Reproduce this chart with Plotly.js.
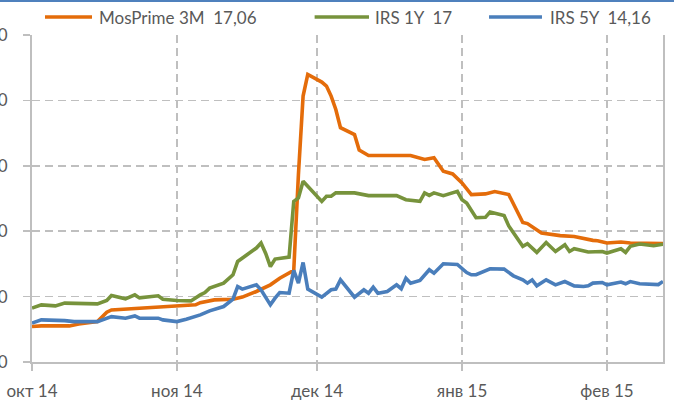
<!DOCTYPE html>
<html>
<head>
<meta charset="utf-8">
<script src="https://cdn.plot.ly/plotly-3.0.1.min.js"></script>
<style>
html,body{margin:0;padding:0;background:#fff;overflow:hidden;}
#topbar{position:absolute;left:0;top:0;width:674px;height:2px;background:#4F81BD;z-index:5;}
#chart{width:674px;height:406px;}
</style>
</head>
<body>
<div id="topbar"></div>
<div id="chart"></div>
<script>
// MosPrime 3M
const mosDates = ['2014-10-01','2014-10-03','2014-10-09','2014-10-11','2014-10-15','2014-10-17','2014-10-18','2014-10-21','2014-10-28','2014-11-01','2014-11-05','2014-11-06','2014-11-09','2014-11-13','2014-11-15','2014-11-18','2014-11-20','2014-11-21','2014-11-23','2014-11-25','2014-11-26','2014-11-27','2014-11-28','2014-11-29','2014-12-02','2014-12-03','2014-12-04','2014-12-05','2014-12-06','2014-12-09','2014-12-10','2014-12-12','2014-12-21','2014-12-24','2014-12-26','2014-12-27','2014-12-28','2014-12-30','2015-01-01','2015-01-03','2015-01-06','2015-01-08','2015-01-11','2015-01-14','2015-01-15','2015-01-18','2015-01-22','2015-01-25','2015-01-27','2015-01-29','2015-01-30','2015-02-01','2015-02-04','2015-02-06','2015-02-13'];
const mosValues = [10.71,10.76,10.76,10.91,11.09,11.81,11.98,12.04,12.16,12.29,12.37,12.54,12.75,12.80,12.96,13.39,13.69,13.90,14.41,14.84,15.00,22.33,28.33,29.99,29.40,29.10,28.33,27.31,25.91,25.39,24.20,23.79,23.79,23.48,23.61,23.10,22.58,22.38,21.69,20.80,20.85,21.03,20.80,18.67,18.58,17.86,17.66,17.60,17.43,17.30,17.27,17.10,17.17,17.10,17.06];

// IRS 1Y
const irs1Dates = ['2014-10-01','2014-10-03','2014-10-06','2014-10-08','2014-10-15','2014-10-17','2014-10-18','2014-10-21','2014-10-23','2014-10-24','2014-10-28','2014-10-29','2014-11-01','2014-11-04','2014-11-06','2014-11-07','2014-11-08','2014-11-11','2014-11-13','2014-11-14','2014-11-16','2014-11-18','2014-11-19','2014-11-20','2014-11-21','2014-11-22','2014-11-25','2014-11-26','2014-11-27','2014-11-28','2014-12-02','2014-12-03','2014-12-04','2014-12-05','2014-12-09','2014-12-12','2014-12-18','2014-12-20','2014-12-23','2014-12-24','2014-12-25','2014-12-26','2014-12-28','2014-12-31','2015-01-01','2015-01-02','2015-01-04','2015-01-06','2015-01-07','2015-01-10','2015-01-11','2015-01-14','2015-01-15','2015-01-17','2015-01-19','2015-01-21','2015-01-23','2015-01-24','2015-01-25','2015-01-27','2015-01-28','2015-01-31','2015-02-01','2015-02-04','2015-02-05','2015-02-06','2015-02-08','2015-02-11','2015-02-13'];
const irs1Values = [12.12,12.37,12.29,12.50,12.44,12.70,13.08,12.83,13.13,12.90,13.06,12.80,12.70,12.67,13.13,13.31,13.65,14.03,14.67,15.69,16.20,16.71,17.10,16.30,15.30,15.87,16.02,20.28,20.54,21.82,20.28,20.67,20.67,20.93,20.93,20.72,20.72,20.41,20.28,20.93,20.74,20.93,20.72,21.05,20.41,20.16,19.03,19.06,19.47,19.19,18.40,16.84,17.04,16.38,17.14,16.45,16.97,16.45,16.66,16.51,16.41,16.45,16.33,16.66,16.38,16.84,17.02,16.89,17.00];

// IRS 5Y
const irs5Dates = ['2014-10-01','2014-10-03','2014-10-08','2014-10-10','2014-10-15','2014-10-18','2014-10-21','2014-10-23','2014-10-24','2014-10-28','2014-10-29','2014-11-01','2014-11-03','2014-11-06','2014-11-08','2014-11-11','2014-11-13','2014-11-14','2014-11-15','2014-11-18','2014-11-19','2014-11-21','2014-11-22','2014-11-23','2014-11-25','2014-11-26','2014-11-27','2014-11-28','2014-11-29','2014-12-02','2014-12-04','2014-12-05','2014-12-06','2014-12-09','2014-12-11','2014-12-12','2014-12-13','2014-12-14','2014-12-16','2014-12-18','2014-12-19','2014-12-20','2014-12-21','2014-12-23','2014-12-25','2014-12-26','2014-12-28','2014-12-31','2015-01-02','2015-01-03','2015-01-04','2015-01-07','2015-01-10','2015-01-12','2015-01-14','2015-01-15','2015-01-16','2015-01-17','2015-01-19','2015-01-21','2015-01-23','2015-01-25','2015-01-27','2015-01-28','2015-01-29','2015-01-31','2015-02-01','2015-02-04','2015-02-05','2015-02-06','2015-02-08','2015-02-12','2015-02-13'];
const irs5Values = [10.97,11.22,11.16,11.09,11.09,11.47,11.35,11.52,11.35,11.35,11.22,11.09,11.27,11.60,11.91,12.24,12.80,13.77,13.57,13.90,13.52,12.37,12.88,13.31,13.26,15.00,14.03,15.61,13.57,12.96,13.52,13.57,14.28,12.96,13.52,13.26,13.72,13.26,13.39,13.90,13.60,14.41,14.03,14.23,15.05,14.79,15.51,15.46,14.84,14.67,14.67,15.13,15.10,14.59,14.28,14.03,14.28,13.82,14.28,13.90,14.15,13.82,13.77,13.82,14.03,14.08,13.90,14.11,13.98,14.15,13.98,13.92,14.16];

const seriesNames = ['MosPrime 3M\u00a0 17,06', 'IRS 1Y\u00a0 17', 'IRS 5Y\u00a0 14,16'];
const seriesColors = ['#E46C0A', '#77933C', '#4A7EBB'];

const monthTicks = ['2014-10-01','2014-11-01','2014-12-01','2015-01-01','2015-02-01'];
const monthLabels = ['окт 14','ноя 14','дек 14','янв 15','фев 15'];
const yTicks = [8, 13, 18, 23, 28, 33];

const font = {family: 'Lato, "Open Sans", sans-serif', size: 17, color: '#595959'};

const traces = [
  {x: mosDates, y: mosValues, name: seriesNames[0]},
  {x: irs1Dates, y: irs1Values, name: seriesNames[1]},
  {x: irs5Dates, y: irs5Values, name: seriesNames[2]}
].map((t, i) => Object.assign(t, {
  type: 'scatter', mode: 'lines',
  line: {color: seriesColors[i], width: 3.6, shape: 'linear'},
  hoverinfo: 'skip'
}));

// manual legend (paper coordinates)
const legendItems = [
  {x0: 0.0206, x1: 0.0951, tx: 0.103},
  {x0: 0.4479, x1: 0.5341, tx: 0.5398},
  {x0: 0.7243, x1: 0.8082, tx: 0.8173}
];
const legY = 1.055;
const shapes = legendItems.map((it, i) => ({
  type: 'line', xref: 'paper', yref: 'paper',
  x0: it.x0, x1: it.x1, y0: legY, y1: legY,
  line: {color: seriesColors[i], width: 3.6}
}));
const annotations = legendItems.map((it, i) => ({
  xref: 'paper', yref: 'paper', x: it.tx, y: legY,
  xanchor: 'left', yanchor: 'middle', showarrow: false,
  text: seriesNames[i], font: font
}));

const layout = {
  width: 674, height: 406,
  margin: {l: 32, r: 11, t: 35, b: 44, pad: 0},
  paper_bgcolor: '#ffffff', plot_bgcolor: '#ffffff',
  showlegend: false,
  font: font,
  separators: ', ',
  xaxis: {
    type: 'date',
    range: ['2014-10-01', '2015-02-13'],
    tickmode: 'array', tickvals: monthTicks, ticktext: monthLabels,
    showgrid: true, gridcolor: '#bfbfbf', gridwidth: 1.5, griddash: '8px,5px',
    showline: true, linecolor: '#bfbfbf', linewidth: 2,
    ticks: 'outside', ticklen: 7, tickcolor: '#bfbfbf', tickwidth: 1.5,
    ticklabelstandoff: 6,
    tickfont: font, zeroline: false
  },
  yaxis: {
    range: [8, 33],
    tickmode: 'array', tickvals: yTicks, tickformat: '.1f',
    showgrid: true, gridcolor: '#bfbfbf', gridwidth: 1.5, griddash: '8px,5px',
    showline: true, linecolor: '#bfbfbf', linewidth: 2, mirror: true,
    ticks: 'outside', ticklen: 7, tickcolor: '#bfbfbf', tickwidth: 1.5,
    ticklabelstandoff: 12,
    tickfont: font, zeroline: false
  },
  shapes: shapes,
  annotations: annotations
};

Plotly.newPlot('chart', traces, layout, {displayModeBar: false, staticPlot: true});
</script>
</body>
</html>
